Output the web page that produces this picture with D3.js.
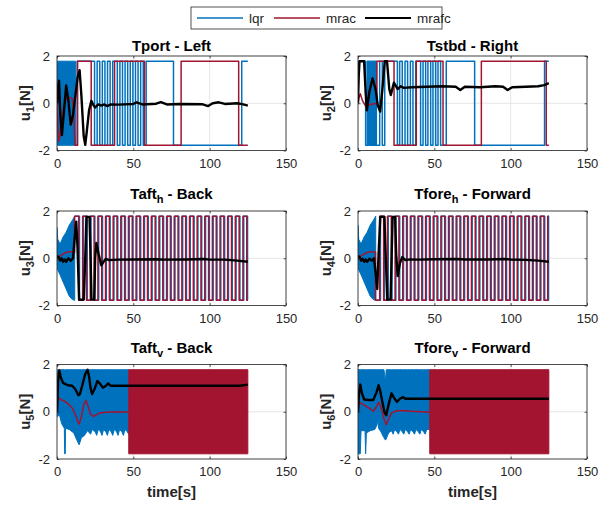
<!DOCTYPE html>
<meta charset="utf-8">
<style>
    body { margin: 0; background: #fff; }
    text { font-family: "Liberation Sans", Arial, sans-serif; fill: #262626; }
    .tick { font-size: 13px; }
    .title { font-size: 15px; font-weight: bold; text-anchor: middle; fill: #000; }
    .lab { font-size: 15px; font-weight: bold; text-anchor: middle; }
    .leg { font-size: 13.5px; }
</style>
<svg width="610" height="505"></svg>
<script src="https://d3js.org/d3.v7.min.js"></script>
<script>
// ---- data ----
var tEnd = 125, sat = 1.78;
var seriesNames = ["lqr", "mrac", "mrafc"];
var seriesColors = ["#0072BD", "#A2142F", "#000000"];
var titleMain = ["Tport", "Tstbd", "Taft", "Tfore", "Taft", "Tfore"];
var titleSub = ["", "", "h", "h", "v", "v"];
var titleTail = [" - Left", " - Right", " - Back", " - Forward", " - Back", " - Forward"];
var xTicks = [0, 50, 100, 150], yTicks = [-2, 0, 2];

// panel 1
var lqrBand1 = [[0, -1.78, 1.78], [12.2, -1.78, 1.78]];
var lqrHead1 = [];
var lqrSw1 = [12.2, 13.2, 24.6, 26.3, 28.0, 29.7, 31.4, 33.1, 34.8, 36.5, 39.5, 41.2, 42.9, 44.6, 46.3, 48.0, 49.7, 51.4, 53.1, 54.8, 56.5, 58.4, 76.3, 121.0];
var lqrLv1 = -1;
var mracHead1 = [[0, 0], [0.6, -1.0], [1.2, -1.6], [2, -1.35], [3, -0.7], [4.5, -0.1], [6, 0.18], [8, 0.25], [10, 0.2], [11, -0.6], [11.8, -1.78]];
var mracSw1 = [11.8, 13.5, 22.4, 37.7, 57.3, 81.3, 119.0];
var mracLv1 = -1;
var mrafc1 = [[0, 0], [0.7, 0.7], [1.3, 0.95], [2.2, -0.5], [3.2, -1.35], [4.5, -0.4], [6, 0.75], [7.5, 0.1], [9, -0.9], [10.5, -0.5], [12, 0.3], [13.5, 1.1], [14.8, 1.4], [16, 0.3], [17.5, -1.4], [18.5, -1.76], [19.5, -1.2], [21, -0.3], [22.5, 0.1], [24, -0.1], [25, -0.18], [27, -0.05], [29, -0.1], [31, -0.05], [33, -0.12], [35, -0.05], [40, -0.06], [50, -0.03], [52, 0.04], [56, -0.05], [65, -0.02], [68, 0.05], [72, -0.05], [80, -0.03], [95, -0.04], [99, -0.12], [102, 0.0], [106, 0.04], [110, -0.03], [118, 0.0], [122, -0.05], [125, -0.1]];

// panel 2
var lqrBand2 = [];
var lqrHead2 = [[0, 0]];
var lqrSw2 = [0.3, 5.0, 6.2, 7.0, 7.6, 8.3, 8.8, 9.2, 9.6, 9.8, 10.2, 10.5, 10.9, 11.1, 11.6, 12.0, 14.2, 15.9, 17.5, 25.8, 27.3, 29.0, 30.8, 32.5, 34.3, 36.0, 37.8, 41.0, 42.6, 44.3, 45.8, 47.6, 49.1, 50.9, 52.4, 54.1, 57.8, 76.4, 122.2];
var lqrLv2 = 1;
var mracHead2 = [[0, 0], [0.5, 0.2], [1.5, 0.4], [3, 0.1], [5, -0.12], [8, -0.05], [12.4, 0]];
var mracSw2 = [12.4, 23.6, 38.2, 55.7, 80.8, 123.3];
var mracLv2 = 1;
var mrafc2 = [[0, 0], [0.5, 1.2], [1, 1.78], [4, 1.78], [5, 0.5], [5.8, -0.3], [7.5, 0.5], [9.5, 1.05], [11.5, 0.6], [13, -0.1], [14.5, -0.35], [16, 0.6], [17.5, 1.78], [19, 1.78], [20.5, 0.6], [21.5, 0.35], [23.5, 0.87], [26, 0.6], [28, 0.72], [30, 0.65], [35, 0.68], [45, 0.7], [55, 0.72], [64, 0.7], [67, 0.56], [70, 0.7], [80, 0.68], [90, 0.72], [95, 0.7], [98, 0.56], [101, 0.68], [110, 0.7], [118, 0.72], [122, 0.77], [125, 0.85]];

// panel 3
var lqrBand3 = [[0, -0.3, 1.3], [0.5, -0.5, 0.8], [2, -0.7, 0.6], [4, -1.0, 0.9], [6, -1.3, 1.1], [8, -1.6, 1.4], [10, -1.75, 1.6], [11.6, -1.78, 1.78]];
var lqrHead3 = [];
var lqrSw3 = [11.6, 14.7, 17.3, 19.8, 22.3, 24.8, 27.3, 29.8, 32.3, 34.8, 37.3, 39.8, 42.3, 44.8, 47.3, 49.8, 52.3, 54.8, 57.3, 59.8, 62.3, 64.8, 67.3, 69.8, 72.3, 74.8, 77.3, 79.8, 82.3, 84.8, 87.3, 89.8, 92.3, 94.8, 97.3, 99.8, 102.3, 104.8, 107.3, 109.8, 112.3, 114.8, 117.3, 119.8, 122.3, 124.8];
var lqrLv3 = 1;
var mracHead3 = [[0, 0], [2, 0.1], [5, 0.22], [8, 0.28], [10, 0.27], [11.5, 0.25]];
var mracSw3 = [11.5, 14.2, 16.8, 19.3, 21.8, 24.3, 26.8, 29.3, 31.8, 34.3, 36.8, 39.3, 41.8, 44.3, 46.8, 49.3, 51.8, 54.3, 56.8, 59.3, 61.8, 64.3, 66.8, 69.3, 71.8, 74.3, 76.8, 79.3, 81.8, 84.3, 86.8, 89.3, 91.8, 94.3, 96.8, 99.3, 101.8, 104.3, 106.8, 109.3, 111.8, 114.3, 116.8, 119.3, 121.8, 124.3];
var mracLv3 = 1;
var mrafc3 = [[0, 0.1], [1, 0.05], [2, -0.1], [3, 0], [4, -0.15], [5, -0.05], [6, -0.15], [7.5, 0], [9, -0.1], [10.5, 0.0], [11.5, 0.8], [12.6, 1.55], [13.4, 0.5], [14.5, -1.75], [17.5, -1.75], [18.5, 0], [19.3, 1.75], [21.3, 1.75], [22, 0], [22.6, -1.75], [24.4, -1.75], [25, 0], [25.8, 0.65], [27.2, 0.2], [29, -0.3], [30.5, -0.15], [32, -0.02], [34, -0.08], [40, -0.06], [50, -0.05], [65, -0.04], [70, -0.06], [85, -0.05], [96, -0.03], [100, -0.06], [110, -0.06], [118, -0.1], [125, -0.15]];

// panel 4
var lqrBand4 = [[0, -0.3, 1.4], [0.5, -0.5, 0.8], [2, -0.7, 0.6], [4, -1.0, 0.9], [6, -1.3, 1.1], [8, -1.6, 1.4], [10, -1.75, 1.6], [11.6, -1.78, 1.78]];
var lqrHead4 = [];
var lqrSw4 = [11.6, 14.7, 17.3, 19.8, 22.3, 24.8, 27.3, 29.8, 32.3, 34.8, 37.3, 39.8, 42.3, 44.8, 47.3, 49.8, 52.3, 54.8, 57.3, 59.8, 62.3, 64.8, 67.3, 69.8, 72.3, 74.8, 77.3, 79.8, 82.3, 84.8, 87.3, 89.8, 92.3, 94.8, 97.3, 99.8, 102.3, 104.8, 107.3, 109.8, 112.3, 114.8, 117.3, 119.8, 122.3, 124.8];
var lqrLv4 = -1;
var mracHead4 = [[0, 0], [2, 0.1], [5, 0.22], [8, 0.28], [10, 0.27], [11.5, 0.25]];
var mracSw4 = [11.5, 14.2, 16.8, 19.3, 21.8, 24.3, 26.8, 29.3, 31.8, 34.3, 36.8, 39.3, 41.8, 44.3, 46.8, 49.3, 51.8, 54.3, 56.8, 59.3, 61.8, 64.3, 66.8, 69.3, 71.8, 74.3, 76.8, 79.3, 81.8, 84.3, 86.8, 89.3, 91.8, 94.3, 96.8, 99.3, 101.8, 104.3, 106.8, 109.3, 111.8, 114.3, 116.8, 119.3, 121.8, 124.3];
var mracLv4 = -1;
var mrafc4 = [[0, 0.1], [1, 0.05], [2, -0.1], [3, -0.02], [4, -0.15], [5, -0.05], [6, -0.15], [7.5, -0.02], [9, -0.1], [10.5, 0.0], [11.5, -0.6], [12.6, -1.3], [13.5, 0.2], [14.6, 1.75], [17.3, 1.75], [18.2, 0], [19.2, -1.75], [21.3, -1.75], [22, 0], [22.7, 1.75], [24.3, 1.75], [25, 0.2], [26, -0.75], [27.5, -0.2], [29, 0.05], [31, -0.08], [34, -0.05], [40, -0.06], [50, -0.04], [65, -0.03], [70, -0.05], [85, -0.05], [96, -0.03], [100, -0.05], [110, -0.07], [118, -0.1], [125, -0.15]];

// panel 5
var lqrBand5 = [[0, -0.1, 1.2], [0.5, -0.2, 1.78], [1.5, -0.1, 1.78], [3, -0.5, 1.78], [4.8, -0.7, 1.78], [5.0, -1.78, 1.78], [5.4, -1.78, 1.78], [5.6, -0.7, 1.78], [8, -0.75, 1.78], [11, -0.9, 1.78], [13, -1.2, 1.78], [14.5, -1.4, 1.78], [16, -1.1, 1.78], [18, -1.0, 1.78], [20, -0.8, 1.78], [22, -0.95, 1.78], [23, -0.75, 1.78], [25, -0.85, 1.78], [26, -1.0, 1.78], [27, -0.75, 1.78], [28.5, -0.85, 1.78], [29.5, -1.0, 1.78], [30.5, -0.75, 1.78], [32, -0.85, 1.78], [33, -1.0, 1.78], [34, -0.75, 1.78], [35.5, -0.85, 1.78], [36.5, -1.0, 1.78], [37.5, -0.75, 1.78], [39, -0.85, 1.78], [40, -1.0, 1.78], [41, -0.75, 1.78], [42.5, -0.85, 1.78], [43.5, -1.0, 1.78], [44.5, -0.75, 1.78], [46, -0.85, 1.78], [47, -0.95, 1.78]];
var lqrHead5 = [];
var lqrSw5 = [];
var lqrLv5 = 1;
var mracBand5 = [[47, -1.78, 1.78], [125, -1.78, 1.78]];
var mracHead5 = [[0, 0], [0.5, 0.5], [1.2, 0.58], [3, 0.5], [5, 0.45], [8, 0.3], [10, 0.15], [12, -0.1], [13.5, -0.4], [14.5, -0.52], [16, -0.2], [17.5, 0.3], [19, 0.48], [20.5, 0.2], [22, -0.1], [24, -0.2], [26, -0.12], [28, -0.05], [32, -0.02], [40, 0], [47, -0.02]];
var mrafc5 = [[0, 0], [0.7, 1.3], [1.5, 1.75], [2.5, 1.45], [4, 1.22], [7, 1.12], [10, 1.1], [12, 0.95], [14, 0.7], [15, 0.75], [16.5, 1.1], [18.5, 1.6], [20, 1.78], [21, 1.5], [22, 1.0], [23, 0.75], [24.5, 0.95], [26.5, 1.3], [28, 1.2], [30, 1.02], [32, 1.1], [33.5, 1.2], [35, 1.1], [40, 1.1], [60, 1.1], [80, 1.1], [100, 1.1], [120, 1.1], [125, 1.15]];

// panel 6
var lqrBand6 = [[0, -1.78, 1.78], [1.5, -1.78, 1.78], [2, -0.8, 1.78], [4.6, -0.8, 1.78], [5, -1.78, 1.78], [5.5, -0.9, 1.78], [8, -0.8, 1.78], [11, -0.75, 1.78], [12.5, -0.55, 1.78], [13, -0.3, 1.78], [13.5, -0.7, 1.78], [15, -0.85, 1.78], [17, -1.1, 1.78], [18, -1.2, 1.3], [18.5, -1.15, 1.78], [20, -0.9, 1.78], [22, -0.8, 1.78], [23, -0.95, 1.78], [24, -0.75, 1.78], [25.5, -0.85, 1.78], [26.5, -0.95, 1.78], [27.5, -0.75, 1.78], [29, -0.85, 1.78], [30, -0.95, 1.78], [31, -0.75, 1.78], [32.5, -0.85, 1.78], [33.5, -0.95, 1.78], [34.5, -0.75, 1.78], [36, -0.85, 1.78], [37, -0.95, 1.78], [38, -0.75, 1.78], [39.5, -0.85, 1.78], [40.5, -0.95, 1.78], [41.5, -0.75, 1.78], [43, -0.85, 1.78], [44, -0.95, 1.78], [45, -0.75, 1.78], [47, -0.75, 1.78]];
var lqrHead6 = [];
var lqrSw6 = [];
var lqrLv6 = 1;
var mracBand6 = [[47, -1.78, 1.78], [125, -1.78, 1.78]];
var mracHead6 = [[0, 0], [0.6, 0.3], [1.5, 0.38], [3, 0.32], [5, 0.25], [8, 0.12], [10, 0.02], [11.5, 0.15], [13.5, 0.4], [15, 0.2], [17, -0.3], [18.5, -0.55], [20, -0.3], [22, -0.05], [25, 0.03], [28, 0.05], [35, 0.02], [47, -0.02]];
var mrafc6 = [[0, 0], [0.7, 0.8], [1.5, 1.15], [2.5, 0.8], [4, 0.52], [7, 0.5], [10, 0.5], [12, 0.8], [13.5, 1.12], [14.5, 0.9], [16, 0.4], [17.5, -0.05], [18.5, -0.15], [20, 0.3], [22, 0.78], [23.5, 0.6], [25.5, 0.42], [27.5, 0.55], [29.5, 0.62], [31, 0.55], [35, 0.55], [125, 0.55]];

// ---- build panel table ----
var panels = [
    {lqrBand: lqrBand1, lqrHead: lqrHead1, lqrSw: lqrSw1, lqrLv: lqrLv1, mracBand: [], mracHead: mracHead1, mracSw: mracSw1, mracLv: mracLv1, mrafc: mrafc1},
    {lqrBand: lqrBand2, lqrHead: lqrHead2, lqrSw: lqrSw2, lqrLv: lqrLv2, mracBand: [], mracHead: mracHead2, mracSw: mracSw2, mracLv: mracLv2, mrafc: mrafc2},
    {lqrBand: lqrBand3, lqrHead: lqrHead3, lqrSw: lqrSw3, lqrLv: lqrLv3, mracBand: [], mracHead: mracHead3, mracSw: mracSw3, mracLv: mracLv3, mrafc: mrafc3},
    {lqrBand: lqrBand4, lqrHead: lqrHead4, lqrSw: lqrSw4, lqrLv: lqrLv4, mracBand: [], mracHead: mracHead4, mracSw: mracSw4, mracLv: mracLv4, mrafc: mrafc4},
    {lqrBand: lqrBand5, lqrHead: lqrHead5, lqrSw: lqrSw5, lqrLv: lqrLv5, mracBand: mracBand5, mracHead: mracHead5, mracSw: [], mracLv: 1, mrafc: mrafc5},
    {lqrBand: lqrBand6, lqrHead: lqrHead6, lqrSw: lqrSw6, lqrLv: lqrLv6, mracBand: mracBand6, mracHead: mracHead6, mracSw: [], mracLv: 1, mrafc: mrafc6}
];

// ---- layout ----
var colX = [57, 358], rowY = [56, 211, 364.5], pw = 229, ph = 94.5;
var axisColor = "#262626", gridColor = "#dedede";
var svg = d3.select("svg");

// head points then a bang-bang part from its switching times
function withSteps(head, sw, lv) {
    var pts = head.slice();
    if (sw.length) {
        var cur = lv * sat;
        pts.push([sw[0], cur]);
        for (var i = 1; i < sw.length; i++) {
            pts.push([sw[i], cur]);
            cur = -cur;
            pts.push([sw[i], cur]);
        }
        pts.push([tEnd, cur]);
    }
    return pts;
}

panels.forEach(function (p, i) {
    var x0 = colX[i % 2], y0 = rowY[Math.floor(i / 2)];
    var x = d3.scaleLinear().domain([0, 150]).range([0, pw]);
    var y = d3.scaleLinear().domain([-2, 2]).range([ph, 0]);
    var g = svg.append("g").attr("transform", "translate(" + x0 + "," + y0 + ")");

    g.append("clipPath").attr("id", "clip" + i)
        .append("rect").attr("width", pw).attr("height", ph);

    // grid
    g.append("g").selectAll("line").data(xTicks).enter().append("line")
        .attr("x1", function (d) { return x(d); }).attr("x2", function (d) { return x(d); })
        .attr("y1", 0).attr("y2", ph).attr("stroke", gridColor).attr("stroke-width", 0.8);
    g.append("g").selectAll("line").data(yTicks).enter().append("line")
        .attr("y1", function (d) { return y(d); }).attr("y2", function (d) { return y(d); })
        .attr("x1", 0).attr("x2", pw).attr("stroke", gridColor).attr("stroke-width", 0.8);

    var plot = g.append("g").attr("clip-path", "url(#clip" + i + ")");
    var line = d3.line().x(function (d) { return x(d[0]); }).y(function (d) { return y(d[1]); });
    var area = d3.area().x(function (d) { return x(d[0]); })
        .y0(function (d) { return y(d[1]); }).y1(function (d) { return y(d[2]); });

    function drawSeries(band, pts, color, width) {
        if (band.length) {
            plot.append("path").datum(band).attr("d", area)
                .attr("fill", color).attr("stroke", color).attr("stroke-width", 1);
        }
        if (pts.length) {
            plot.append("path").datum(pts).attr("d", line)
                .attr("fill", "none").attr("stroke", color)
                .attr("stroke-width", width).attr("stroke-linejoin", "round");
        }
    }
    drawSeries(p.lqrBand, withSteps(p.lqrHead, p.lqrSw, p.lqrLv), seriesColors[0], 1.5);
    drawSeries(p.mracBand, withSteps(p.mracHead, p.mracSw, p.mracLv), seriesColors[1], 1.5);
    drawSeries([], p.mrafc, seriesColors[2], 2.4);

    // axes box with inward ticks on all sides
    var tk = 2.4;
    g.append("rect").attr("width", pw).attr("height", ph)
        .attr("fill", "none").attr("stroke", axisColor).attr("stroke-width", 0.8);
    var xa = d3.axisBottom(x).tickValues(xTicks).tickSize(-tk).tickPadding(7).tickFormat(String);
    var ya = d3.axisLeft(y).tickValues(yTicks).tickSize(-tk).tickPadding(7).tickFormat(String);
    var gx = g.append("g").attr("class", "tick").attr("transform", "translate(0," + ph + ")").call(xa);
    var gy = g.append("g").attr("class", "tick").call(ya);
    g.append("g").call(d3.axisTop(x).tickValues(xTicks).tickSize(-tk).tickFormat(""));
    g.append("g").attr("transform", "translate(" + pw + ",0)")
        .call(d3.axisRight(y).tickValues(yTicks).tickSize(-tk).tickFormat(""));
    g.selectAll(".domain").remove();
    g.selectAll(".tick line").attr("stroke", axisColor).attr("stroke-width", 0.8);
    gx.selectAll("text").attr("font-size", 13).attr("fill", axisColor).attr("dy", "0.8em");
    gy.selectAll("text").attr("font-size", 13).attr("fill", axisColor);

    // title
    var hasSub = titleSub[i] !== "";
    var t = g.append("text").attr("class", "title")
        .attr("x", pw / 2).attr("y", hasSub ? -12 : -5.5);
    t.append("tspan").text(titleMain[i]);
    if (hasSub) {
        t.append("tspan").attr("dy", 4).attr("font-size", 11).text(titleSub[i]);
        t.append("tspan").attr("dy", -4).text(titleTail[i]);
    } else {
        t.append("tspan").text(titleTail[i]);
    }

    // y label
    var yl = g.append("text").attr("class", "lab")
        .attr("transform", "translate(-27," + ph / 2 + ") rotate(-90)");
    yl.append("tspan").text("u");
    yl.append("tspan").attr("dy", 4).attr("font-size", 11).text(String(i + 1));
    yl.append("tspan").attr("dy", -4).text("[N]");

    if (i >= 4) {
        g.append("text").attr("class", "lab")
            .attr("x", pw / 2).attr("y", ph + 38).text("time[s]");
    }
});

// legend
var leg = svg.append("g").attr("transform", "translate(191,7)");
leg.append("rect").attr("width", 251).attr("height", 22)
    .attr("fill", "#fff").attr("stroke", axisColor).attr("stroke-width", 0.8);
var legX = [6, 83, 174];
seriesNames.forEach(function (n, k) {
    leg.append("line").attr("x1", legX[k]).attr("x2", legX[k] + 46)
        .attr("y1", 11).attr("y2", 11)
        .attr("stroke", seriesColors[k]).attr("stroke-width", k === 2 ? 2 : 1.5);
    leg.append("text").attr("class", "leg").attr("x", legX[k] + 52).attr("y", 15.5).text(n);
});
</script>
